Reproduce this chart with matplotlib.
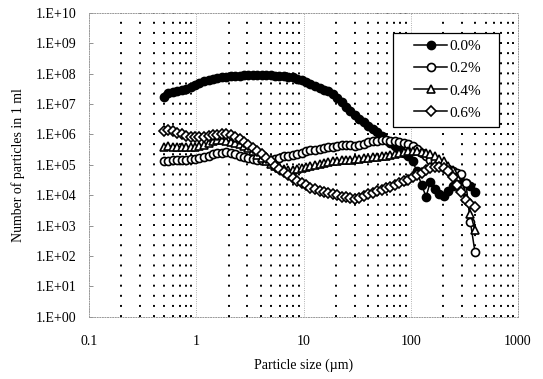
"""
Particle size distribution (number of particles per ml) for four
additive concentrations, log-log axes with a dotted vertical grid.
"""

import matplotlib
matplotlib.use("Agg")
import matplotlib.pyplot as plt
from matplotlib.patches import Rectangle
from matplotlib.ticker import FixedLocator, LogLocator, NullFormatter

plt.rcParams["font.family"] = ["Liberation Serif", "DejaVu Serif"]

# particle size classes (um), shared by all samples
size_um = [0.50, 0.55, 0.605, 0.666, 0.732, 0.805, 0.886, 0.974, 1.07, 1.18,
           1.30, 1.43, 1.57, 1.73, 1.90, 2.09, 2.30, 2.53, 2.78, 3.06,
           3.36, 3.70, 4.07, 4.48, 4.92, 5.42, 5.96, 6.56, 7.21, 7.93,
           8.72, 9.60, 10.6, 11.6, 12.8, 14.1, 15.5, 17.0, 18.7, 20.6,
           22.6, 24.9, 27.4, 30.1, 33.1, 36.4, 40.1, 44.1, 48.5, 53.4,
           58.7, 64.6, 71.0, 78.1, 85.9, 94.5, 104, 114, 126, 139,
           152, 168, 184, 203, 223, 246, 270, 297, 327, 360,
           396]

# number of particles in 1 ml
n_00 = [1.7e7, 2.4e7, 2.5e7, 2.6e7, 2.8e7, 3.2e7, 3.6e7, 4.3e7, 5.0e7, 5.6e7,
        6.3e7, 6.9e7, 7.2e7, 7.6e7, 7.9e7, 8.3e7, 8.5e7, 8.7e7, 8.9e7, 9.1e7,
        9.1e7, 9.1e7, 9.1e7, 8.9e7, 8.9e7, 8.7e7, 8.5e7, 8.3e7, 7.9e7, 7.6e7,
        6.9e7, 6.2e7, 5.2e7, 4.5e7, 4.0e7, 3.5e7, 3.0e7, 2.6e7, 2.1e7, 1.6e7,
        1.15e7, 8.3e6, 6.0e6, 4.4e6, 3.2e6, 2.5e6, 1.9e6, 1.5e6, 1.2e6, 8.9e5,
        6.6e5, 5.2e5, 4.2e5, 3.2e5, 2.5e5, 2.0e5, 1.3e5, 6.3e4, 2.2e4, 8.9e3,
        2.8e4, 1.6e4, 1.1e4, 9.5e3, 1.4e4, 2.0e4, 2.5e4, 2.8e4, 2.5e4, 2.0e4,
        1.3e4]

n_02 = [1.3e5, 1.3e5, 1.4e5, 1.5e5, 1.5e5, 1.5e5, 1.6e5, 1.6e5, 1.7e5, 1.8e5,
        2.0e5, 2.2e5, 2.4e5, 2.5e5, 2.6e5, 2.5e5, 2.2e5, 2.0e5, 1.8e5, 1.7e5,
        1.6e5, 1.5e5, 1.45e5, 1.45e5, 1.5e5, 1.6e5, 1.7e5, 1.9e5, 2.0e5, 2.1e5,
        2.3e5, 2.5e5, 2.8e5, 3.0e5, 3.2e5, 3.4e5, 3.5e5, 3.8e5, 4.0e5, 4.2e5,
        4.4e5, 4.6e5, 4.6e5, 4.3e5, 4.6e5, 5.0e5, 5.5e5, 5.9e5, 6.3e5, 6.6e5,
        6.6e5, 6.3e5, 6.0e5, 5.8e5, 5.4e5, 5.0e5, 4.2e5, 3.3e5, 2.5e5, 1.9e5,
        1.45e5, 1.3e5, 1.0e5, 8.3e4, 7.2e4, 6.3e4, 5.6e4, 5.0e4, 2.5e4, 1.3e3,
        1.4e2]

n_04 = [4.0e5, 4.2e5, 4.0e5, 4.0e5, 4.0e5, 4.0e5, 4.0e5, 4.0e5, 4.2e5, 4.6e5,
        5.2e5, 6.0e5, 6.6e5, 6.6e5, 6.3e5, 5.8e5, 5.2e5, 4.7e5, 4.2e5, 3.5e5,
        2.8e5, 2.1e5, 1.7e5, 1.3e5, 1.1e5, 9.3e4, 7.9e4, 7.1e4, 6.6e4, 6.6e4,
        7.1e4, 7.6e4, 8.3e4, 9.1e4, 1.0e5, 1.07e5, 1.15e5, 1.2e5, 1.3e5, 1.35e5,
        1.4e5, 1.45e5, 1.5e5, 1.55e5, 1.6e5, 1.65e5, 1.7e5, 1.8e5, 1.8e5, 1.9e5,
        2.0e5, 2.1e5, 2.3e5, 2.5e5, 2.6e5, 2.8e5, 2.8e5, 2.8e5, 2.7e5, 2.5e5,
        2.2e5, 1.9e5, 1.6e5, 1.3e5, 9.5e4, 6.6e4, 4.0e4, 2.0e4, 7.9e3, 2.5e3,
        7.2e2]

n_06 = [1.3e6, 1.4e6, 1.26e6, 1.1e6, 1.0e6, 9.1e5, 8.5e5, 8.3e5, 8.3e5, 8.5e5,
        8.9e5, 9.3e5, 9.8e5, 1.0e6, 1.0e6, 9.3e5, 8.3e5, 7.1e5, 5.8e5, 4.6e5,
        3.5e5, 2.8e5, 2.2e5, 1.7e5, 1.3e5, 9.5e4, 7.2e4, 5.8e4, 4.6e4, 3.6e4,
        3.0e4, 2.5e4, 2.1e4, 1.8e4, 1.55e4, 1.4e4, 1.26e4, 1.15e4, 1.07e4, 1.0e4,
        9.1e3, 8.5e3, 7.9e3, 7.6e3, 8.3e3, 9.5e3, 1.07e4, 1.2e4, 1.35e4, 1.5e4,
        1.7e4, 1.9e4, 2.2e4, 2.5e4, 2.9e4, 3.3e4, 4.0e4, 4.8e4, 5.6e4, 6.6e4,
        7.6e4, 8.3e4, 8.5e4, 7.9e4, 6.3e4, 4.0e4, 2.2e4, 1.26e4, 7.1e3, 5.0e3,
        4.0e3]

series_labels = ["0.0%", "0.2%", "0.4%", "0.6%"]

x_ticks = [0.1, 1, 10, 100, 1000]
x_tick_labels = ["0.1", "1", "10", "100", "1000"]
y_ticks = [1e0, 1e1, 1e2, 1e3, 1e4, 1e5, 1e6, 1e7, 1e8, 1e9, 1e10]
y_tick_labels = ["1.E+00", "1.E+01", "1.E+02", "1.E+03", "1.E+04", "1.E+05",
                 "1.E+06", "1.E+07", "1.E+08", "1.E+09", "1.E+10"]

# (marker, face, size) per series
STYLES = [("o", "black", 5.8), ("o", "white", 5.8),
          ("^", "white", 5.8), ("D", "white", 4.8)]


def main() -> None:
    fig = plt.figure(figsize=(5.43, 3.79), dpi=100)
    ax = fig.add_axes([0.164, 0.164, 0.790, 0.802])

    for values, label, (mk, face, ms) in zip(
            [n_00, n_02, n_04, n_06], series_labels, STYLES):
        ax.plot(size_um, values, color="black", lw=1.1, marker=mk,
                markersize=ms, markerfacecolor=face, markeredgecolor="black",
                markeredgewidth=1.2, label=label)

    ax.set_xscale("log")
    ax.set_yscale("log")
    ax.set_xlim(0.1, 1000)
    ax.set_ylim(1, 1e10)

    ax.xaxis.set_major_locator(FixedLocator(x_ticks))
    ax.set_xticklabels(x_tick_labels)
    ax.xaxis.set_minor_locator(LogLocator(base=10, subs=range(2, 10), numticks=20))
    ax.xaxis.set_minor_formatter(NullFormatter())
    ax.yaxis.set_major_locator(FixedLocator(y_ticks))
    ax.set_yticklabels(y_tick_labels)
    ax.yaxis.set_minor_locator(FixedLocator([]))

    ax.tick_params(axis="x", which="both", length=0, pad=13, labelsize=10)
    ax.tick_params(axis="y", which="major", direction="in", length=3,
                   width=0.6, color="0.5", pad=9, labelsize=10)

    # dotted vertical grid (minor lines black, decades faint)
    ax.grid(True, which="minor", axis="x", color="black", lw=1.4,
            ls=(0, (1.0, 4.2)))
    ax.grid(True, which="major", axis="x", color="0.6", lw=0.6, ls=":")
    ax.set_axisbelow(True)

    for sp in ax.spines.values():
        sp.set_color("0.6")
        sp.set_linewidth(0.7)
        sp.set_linestyle(":")

    ax.set_xlabel("Particle size (\u00b5m)", fontsize=10, labelpad=8)
    ax.set_ylabel("Number of particles in 1 ml", fontsize=10, labelpad=8)

    # legend box is wider than the entries, so draw the frame separately
    ax.add_patch(Rectangle((0.709, 0.625), 0.247, 0.309, transform=ax.transAxes,
                           facecolor="white", edgecolor="black", lw=0.9,
                           zorder=5))
    leg = ax.legend(loc="upper left", bbox_to_anchor=(0.757, 0.912),
                    borderaxespad=0, borderpad=0, fontsize=11, frameon=False,
                    handlelength=2.2, handletextpad=0.1, labelspacing=0.55)
    leg.set_zorder(6)

    fig.savefig("out.png", dpi=100)


if __name__ == "__main__":
    main()
